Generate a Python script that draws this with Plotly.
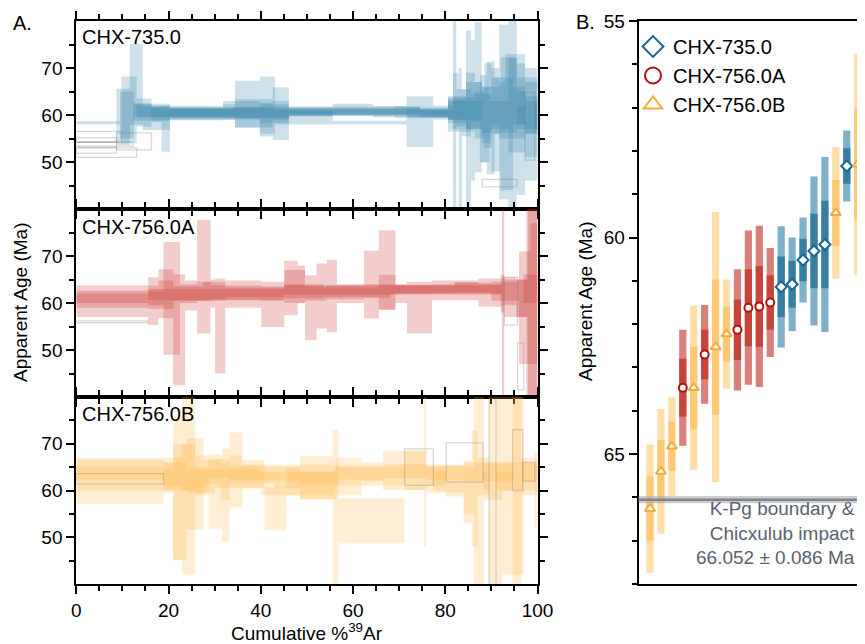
import plotly.graph_objects as go

# ---------------- DATA ----------------
# Left panel: step-heating age spectra (cumulative %39Ar edges, apparent age, 2-sigma error, excluded step indices)
# CHX-735.0
b_a_edges = [0, 9.8, 13.1, 16.3, 31.8, 39.8, 46.1, 55.6, 64.3, 71.6, 80.6, 86.4, 87.9, 90.0, 92.0, 95.5, 97.3, 100]
b_a_age = [55.4, 61.1, 60.5, 60.4, 61.0, 60.3, 60.7, 61.2, 60.7, 60.6, 60.1, 63.8, 60.3, 61.0, 64.3, 60.0, 58.0]
b_a_err = [1.1, 7.1, 3.0, 1.5, 2.0, 2.0, 1.0, 1.2, 1.2, 1.0, 3.6, 16.0, 4.2, 5.0, 8.0, 8.0, 12.0]
b_a_excl = [0]

b_b_edges = [0, 8.7, 11.6, 14.4, 20.3, 34.4, 42.6, 46.1, 69.0, 74.5, 81.7, 82.4, 84.5, 85.6, 87.5, 89.0, 90.7, 91.7, 93.7, 95.5, 97.3, 100]
b_b_age = [52.5, 59.6, 66.5, 59.3, 60.6, 60.4, 60.3, 60.6, 60.6, 60.3, 60.0, 61.5, 58.0, 61.5, 59.2, 59.4, 62.0, 60.6, 62.0, 58.0, 62.0]
b_b_err = [0.6, 6.0, 8.6, 2.5, 0.8, 3.0, 5.6, 0.8, 1.2, 0.8, 25.0, 4.0, 20.0, 3.0, 9.3, 12.0, 6.0, 18.6, 10.0, 15.0, 6.0]
b_b_excl = [0]

b_c_edges = [0, 9.5, 12.5, 16.3, 18.5, 20.3, 34.4, 39.8, 43.1, 55.6, 71.6, 77.4, 81.7, 82.9, 83.6, 85.6, 86.4, 88.5, 90.0, 92.0, 93.7, 95.5, 97.3, 100]
b_c_age = [58.4, 60.0, 61.0, 60.0, 56.6, 60.2, 62.3, 62.1, 59.5, 58.4, 58.6, 60.5, 63.0, 55.0, 60.5, 61.0, 60.0, 62.0, 58.0, 60.0, 60.0, 64.0, 60.0]
b_c_err = [0.35, 5.0, 1.5, 1.5, 4.4, 1.2, 5.0, 6.1, 1.5, 0.4, 5.4, 1.5, 6.0, 15.0, 5.0, 15.0, 5.0, 9.0, 10.0, 3.0, 20.0, 7.0, 4.0]
b_c_excl = []

b_d_edges = [0, 8.7, 16.3, 31.8, 34.4, 39.8, 42.6, 46.1, 64.3, 74.5, 80.6, 84.5, 87.9, 89.6, 92.0, 94.7, 97.3, 100]
b_d_age = [54.7, 54.4, 60.5, 60.8, 60.5, 59.0, 61.0, 61.0, 61.0, 60.2, 60.8, 62.0, 58.0, 60.0, 56.0, 62.0, 60.0]
b_d_err = [0.5, 1.8, 1.0, 1.5, 1.2, 3.6, 2.0, 0.8, 0.8, 0.8, 2.5, 5.0, 8.0, 3.0, 12.0, 4.0, 3.0]
b_d_excl = [0, 1]

b_e_edges = [0, 13.1, 20.3, 46.1, 80.6, 88.0, 95.5, 97.3, 99.4, 100]
b_e_age = [52.0, 60.8, 60.4, 60.6, 61.0, 45.5, 60.0, 57.6, 60.0]
b_e_err = [1.0, 1.2, 1.0, 0.6, 2.0, 0.8, 2.0, 7.2, 3.0]
b_e_excl = [0, 5, 7]

b_f_edges = [0, 12.3, 20.3, 46.1, 72.0, 80.6, 84.5, 86.4, 88.0, 90.0, 91.7, 93.0, 95.5, 97.3, 100]
b_f_age = [53.8, 60.6, 60.5, 60.7, 60.4, 61.5, 63.0, 62.0, 60.0, 64.0, 61.0, 64.0, 60.0, 59.0]
b_f_err = [0.4, 1.8, 1.2, 0.8, 1.0, 2.5, 6.0, 5.0, 6.0, 6.0, 6.0, 9.0, 5.0, 8.0]
b_f_excl = [0]

# CHX-756.0A
r_a_edges = [0, 15.6, 17.8, 21.0, 27.5, 32.3, 40.1, 45.1, 49.6, 54.3, 62.4, 68.0, 77.1, 82.0, 87.2, 92.3, 95.4, 97.9, 100]
r_a_age = [60.8, 61.2, 61.8, 62.0, 62.5, 62.2, 62.0, 63.5, 62.0, 62.3, 62.5, 62.9, 63.0, 63.2, 63.0, 62.5, 61.0, 58.0]
r_a_err = [1.8, 2.5, 3.0, 1.5, 2.0, 1.5, 1.5, 3.5, 1.5, 1.5, 1.5, 1.0, 1.0, 1.2, 1.0, 3.0, 4.0, 25.0]
r_a_excl = []

r_b_edges = [0, 15.6, 17.8, 21.0, 23.6, 26.2, 29.1, 30.1, 32.3, 40.1, 45.1, 48.0, 49.6, 52.1, 54.3, 56.5, 62.4, 65.6, 69.2, 71.7, 77.1, 87.2, 92.3, 92.8, 97.6, 99.7, 100]
r_b_age = [60.4, 60.4, 62.0, 54.3, 61.6, 65.6, 62.0, 55.1, 61.9, 59.7, 63.2, 64.0, 59.0, 61.5, 61.5, 62.0, 63.9, 67.0, 62.0, 59.0, 62.7, 62.2, 60.0, 61.0, 60.0, 60.0]
r_b_err = [3.4, 5.1, 5.2, 11.8, 3.2, 12.1, 3.0, 10.1, 2.9, 4.8, 5.8, 4.0, 6.9, 6.9, 7.7, 2.0, 7.2, 8.5, 2.0, 5.5, 2.1, 3.0, 40.0, 4.0, 30.0, 20.0]
r_b_excl = []

r_c_edges = [0, 15.6, 18.9, 22.5, 26.2, 29.1, 32.3, 45.1, 53.6, 65.6, 69.2, 82.0, 90.0, 96.0, 98.5, 100]
r_c_age = [61.0, 61.0, 61.0, 62.0, 62.5, 62.3, 62.3, 62.5, 62.3, 62.3, 62.9, 63.3, 62.5, 59.0, 62.0]
r_c_err = [1.0, 1.5, 12.0, 2.0, 2.0, 1.5, 1.0, 1.5, 1.0, 3.7, 0.8, 1.0, 2.0, 12.0, 15.0]
r_c_excl = []

r_d_edges = [0, 15.6, 45.0, 92.0, 92.8, 95.7, 97.0, 100]
r_d_age = [56.0, 61.8, 62.8, 62.0, 60.4, 46.5, 63.0]
r_d_err = [0.2, 1.2, 1.0, 4.0, 5.1, 5.0, 3.0]
r_d_excl = [0, 4, 5]

# CHX-756.0B
o_a_edges = [0, 18.9, 21.0, 22.9, 25.8, 28.7, 31.6, 33.2, 36.1, 40.8, 45.5, 48.5, 55.6, 56.8, 71.2, 75.4, 75.9, 80.2, 84.0, 85.8, 87.0, 89.5, 92.4, 94.6, 96.5, 100]
o_a_age = [62.0, 62.0, 60.4, 62.0, 63.5, 59.8, 59.0, 64.4, 63.5, 56.1, 62.0, 62.8, 56.6, 53.5, 64.3, 64.0, 62.5, 62.5, 59.7, 60.4, 63.0, 60.0, 63.0, 60.0, 63.0]
o_a_err = [4.9, 2.5, 15.2, 20.0, 4.0, 8.0, 10.0, 8.0, 3.0, 4.6, 3.0, 4.6, 16.5, 4.8, 4.2, 16.0, 3.0, 3.0, 6.7, 12.4, 4.0, 22.0, 3.0, 20.0, 4.0]
o_a_excl = []

o_b_edges = [0, 18.9, 21.0, 23.9, 27.6, 31.3, 33.2, 35.8, 43.0, 48.5, 56.4, 61.8, 66.5, 75.9, 80.2, 84.0, 86.2, 88.4, 92.4, 97.0, 100]
o_b_age = [62.5, 63.0, 57.5, 61.4, 64.0, 62.0, 64.5, 63.5, 63.0, 61.0, 63.0, 64.0, 64.3, 63.0, 62.0, 60.0, 60.0, 62.0, 62.0, 64.0]
o_b_err = [2.5, 3.0, 12.4, 9.8, 2.5, 4.0, 3.0, 2.0, 2.5, 3.0, 4.0, 2.0, 4.2, 2.0, 3.3, 5.0, 20.0, 4.0, 20.0, 2.0]
o_b_excl = []

o_c_edges = [0, 18.9, 22.9, 25.8, 28.7, 33.2, 40.8, 48.5, 56.8, 66.5, 75.9, 84.0, 90.0, 95.0, 100]
o_c_age = [64.5, 64.0, 65.0, 62.0, 64.8, 63.8, 63.6, 63.5, 63.8, 64.2, 63.8, 64.0, 64.0, 63.0]
o_c_err = [2.2, 3.0, 5.0, 3.0, 2.0, 1.5, 1.5, 2.0, 1.5, 1.5, 1.5, 2.0, 2.0, 3.0]
o_c_excl = []

o_d_edges = [0, 18.9, 24.0, 30.0, 40.0, 56.0, 71.2, 77.4, 80.2, 88.2, 89.5, 91.0, 94.6, 96.8, 99.4, 100]
o_d_age = [62.5, 63.0, 62.0, 62.5, 61.5, 63.0, 65.0, 62.0, 66.0, 62.0, 60.0, 62.0, 66.5, 64.0, 60.0]
o_d_err = [1.1, 3.0, 2.5, 2.0, 2.5, 2.0, 3.9, 2.0, 4.2, 2.0, 30.0, 2.0, 6.5, 2.0, 8.0]
o_d_excl = [0, 6, 8, 10, 12, 13]

# Right panel: plateau / weighted-mean ages with 1-sigma (2-sigma = 2x)
samples = ["CHX-735.0", "CHX-756.0A", "CHX-756.0B"]
c735_pos = [13, 14, 15, 16, 17, 19]
c735_age = [61.14, 61.08, 60.52, 60.31, 60.16, 58.35]
c735_sig = [0.70, 0.54, 0.49, 0.86, 1.01, 0.41]
c756a_pos = [4, 6, 9, 10, 11, 12]
c756a_age = [63.47, 62.70, 62.13, 61.62, 61.59, 61.50]
c756a_sig = [0.67, 0.57, 0.70, 0.89, 0.93, 0.63]
c756b_pos = [1, 2, 3, 5, 7, 8, 18, 20]
c756b_age = [66.26, 65.40, 64.82, 63.47, 62.53, 62.23, 59.43, 58.31]
c756b_sig = [0.74, 0.72, 0.57, 0.95, 1.56, 0.63, 0.76, 1.28]

kpg_age = 66.052
kpg_err = 0.086

# ---------------- STYLE / LAYOUT ----------------
W, H = 865, 644
OFF = 8  # page body margin offset in the screenshot
FONT = "Liberation Sans, Arial, sans-serif"

def fx(p):
    return (p - OFF) / W

def fy(p):
    return 1 - (p - OFF) / H

fig = go.Figure()

def add_spectrum(edges, ages, errs, excl, xa, ya, fill):
    fxs, fys, gxs, gys = [], [], [], []
    for i in range(len(ages)):
        x0, x1 = edges[i], edges[i + 1]
        lo, hi = ages[i] - errs[i], ages[i] + errs[i]
        xs = [x0, x1, x1, x0, x0, None]
        ys = [lo, lo, hi, hi, lo, None]
        if i in excl:
            gxs += xs
            gys += ys
        else:
            fxs += xs
            fys += ys
    if fxs:
        fig.add_trace(go.Scatter(x=fxs, y=fys, mode="lines", fill="toself", fillcolor=fill,
                                 line=dict(width=0, color=fill), xaxis=xa, yaxis=ya,
                                 showlegend=False, hoverinfo="skip"))
    if gxs:
        fig.add_trace(go.Scatter(x=gxs, y=gys, mode="lines",
                                 line=dict(color="rgba(120,120,120,0.28)", width=1.3),
                                 xaxis=xa, yaxis=ya, showlegend=False, hoverinfo="skip"))

BLUE_F = "rgba(50,128,166,0.24)"
RED_F = "rgba(200,45,40,0.24)"
ORA_F = "rgba(255,178,55,0.22)"

for e, a, s, x in [(b_a_edges, b_a_age, b_a_err, b_a_excl), (b_b_edges, b_b_age, b_b_err, b_b_excl),
                   (b_c_edges, b_c_age, b_c_err, b_c_excl), (b_d_edges, b_d_age, b_d_err, b_d_excl),
                   (b_e_edges, b_e_age, b_e_err, b_e_excl), (b_f_edges, b_f_age, b_f_err, b_f_excl)]:
    add_spectrum(e, a, s, x, "x", "y", BLUE_F)
for e, a, s, x in [(r_a_edges, r_a_age, r_a_err, r_a_excl), (r_b_edges, r_b_age, r_b_err, r_b_excl),
                   (r_c_edges, r_c_age, r_c_err, r_c_excl), (r_d_edges, r_d_age, r_d_err, r_d_excl)]:
    add_spectrum(e, a, s, x, "x2", "y2", RED_F)
for e, a, s, x in [(o_a_edges, o_a_age, o_a_err, o_a_excl), (o_b_edges, o_b_age, o_b_err, o_b_excl),
                   (o_c_edges, o_c_age, o_c_err, o_c_excl), (o_d_edges, o_d_age, o_d_err, o_d_excl)]:
    add_spectrum(e, a, s, x, "x3", "y3", ORA_F)

# Right panel bars and markers
groups = [
    (samples[0], c735_pos, c735_age, c735_sig, "rgb(128,176,201)", "rgb(56,126,163)", "diamond", "rgb(22,104,145)", 8.5),
    (samples[1], c756a_pos, c756a_age, c756a_sig, "rgb(218,128,122)", "rgb(199,68,58)", "circle", "rgb(180,16,16)", 8),
    (samples[2], c756b_pos, c756b_age, c756b_sig, "rgb(255,222,168)", "rgb(253,201,117)", "triangle-up", "rgb(248,170,60)", 9),
]
BW = 0.66
for name, pos, age, sig, c_out, c_in, sym, c_mk, msz in groups:
    fig.add_trace(go.Bar(x=pos, y=[4 * s for s in sig], base=[a - 2 * s for a, s in zip(age, sig)],
                         width=BW, marker=dict(color=c_out, line=dict(width=0)),
                         xaxis="x4", yaxis="y4", showlegend=False, hoverinfo="skip"))
for name, pos, age, sig, c_out, c_in, sym, c_mk, msz in groups:
    fig.add_trace(go.Bar(x=pos, y=[2 * s for s in sig], base=[a - s for a, s in zip(age, sig)],
                         width=BW, marker=dict(color=c_in, line=dict(width=0)),
                         xaxis="x4", yaxis="y4", showlegend=False, hoverinfo="skip"))
for name, pos, age, sig, c_out, c_in, sym, c_mk, msz in groups:
    fig.add_trace(go.Scatter(x=pos, y=age, mode="markers",
                             marker=dict(symbol=sym, size=msz, color="white", line=dict(color=c_mk, width=2)),
                             xaxis="x4", yaxis="y4", showlegend=False, hoverinfo="skip"))
for name, pos, age, sig, c_out, c_in, sym, c_mk, msz in groups:
    fig.add_trace(go.Scatter(x=[None], y=[None], mode="markers", name=name,
                             marker=dict(symbol=sym, size=16, color="white", line=dict(color=c_mk, width=2)),
                             xaxis="x4", yaxis="y4", showlegend=True))

# axes
XL = [fx(76.3), fx(537.5)]
doms = [[fy(209), fy(21)], [fy(397), fy(209)], [fy(584), fy(397)]]
minor_x = [v for v in range(5, 100, 5) if v % 20 != 0]

def xax(anchor, labels):
    return dict(domain=XL, anchor=anchor, range=[0, 100], showline=True, linewidth=2, linecolor="black",
                mirror="allticks", ticks="outside", ticklen=8, tickwidth=2, tickcolor="black",
                tickvals=[0, 20, 40, 60, 80, 100], showticklabels=labels,
                tickfont=dict(size=19, color="black", family=FONT),
                minor=dict(tickvals=minor_x, ticks="outside", ticklen=5, tickwidth=1.5, tickcolor="black"),
                showgrid=False, zeroline=False, automargin=False)

def yax(anchor, dom):
    return dict(domain=dom, anchor=anchor, range=[40, 80], showline=True, linewidth=2, linecolor="black",
                mirror="allticks", ticks="outside", ticklen=8, tickwidth=2, tickcolor="black",
                tickvals=[50, 60, 70], tickfont=dict(size=19, color="black", family=FONT),
                minor=dict(tickvals=[45, 55, 65, 75], ticks="outside", ticklen=5, tickwidth=1.5, tickcolor="black"),
                showgrid=False, zeroline=False, automargin=False)

# right panel x range so that position 1 sits at px 650 and 20 at px 857.7
R_LEFT, R_RIGHT = 638.7, OFF + W
PPU = (857.7 - 650.0) / 19.0
xr = [1 - (650.0 - R_LEFT) / PPU, 20 + (R_RIGHT - 857.7) / PPU]

fig.update_layout(
    width=W, height=H, margin=dict(l=0, r=0, t=0, b=0),
    paper_bgcolor="white", plot_bgcolor="white",
    font=dict(family=FONT, size=19, color="black"),
    barmode="overlay",
    xaxis=xax("y", False), yaxis=yax("x", doms[0]),
    xaxis2=xax("y2", False), yaxis2=yax("x2", doms[1]),
    xaxis3=xax("y3", True), yaxis3=yax("x3", doms[2]),
    xaxis4=dict(domain=[fx(R_LEFT), 1.0], anchor="y4", range=xr, showline=True, linewidth=2,
                linecolor="black", mirror=True, ticks="", showticklabels=False, showgrid=False,
                zeroline=False, automargin=False),
    yaxis4=dict(domain=[fy(584), fy(21)], anchor="x4", range=[68, 55], showline=True, linewidth=2,
                linecolor="black", mirror=False, ticks="outside", ticklen=8, tickwidth=2, tickcolor="black",
                tickvals=[55, 60, 65], tickfont=dict(size=19, color="black", family=FONT),
                minor=dict(dtick=1, ticks="outside", ticklen=5, tickwidth=1.5, tickcolor="black"),
                showgrid=False, zeroline=False, automargin=False),
    legend=dict(x=fx(633), y=fy(27), xanchor="left", yanchor="top", bgcolor="rgba(0,0,0,0)",
                font=dict(size=20, family=FONT, color="black"), itemsizing="trace", tracegroupgap=0),
    showlegend=True,
)

fig.add_shape(type="rect", xref="x4 domain", yref="y4", x0=0, x1=1, y0=kpg_age - kpg_err, y1=kpg_age + kpg_err,
              fillcolor="rgba(170,172,176,0.6)", line=dict(width=0), layer="above")
fig.add_shape(type="line", xref="x4 domain", yref="y4", x0=0, x1=1, y0=kpg_age, y1=kpg_age,
              line=dict(color="rgb(128,132,138)", width=2.5), layer="above")

ann = [
    dict(text="A.", x=fx(11), y=fy(23), xanchor="left", yanchor="middle", font=dict(size=20)),
    dict(text="B.", x=fx(574), y=fy(22), xanchor="left", yanchor="middle", font=dict(size=20)),
    dict(text=samples[0], x=fx(80), y=fy(37), xanchor="left", yanchor="middle", font=dict(size=20)),
    dict(text=samples[1], x=fx(80), y=fy(227), xanchor="left", yanchor="middle", font=dict(size=20)),
    dict(text=samples[2], x=fx(80), y=fy(414), xanchor="left", yanchor="middle", font=dict(size=20)),
    dict(text="Apparent Age (Ma)", x=fx(20), y=fy(303), textangle=-90, xanchor="center", yanchor="middle",
         font=dict(size=19)),
    dict(text="Apparent Age (Ma)", x=fx(585), y=fy(302), textangle=-90, xanchor="center", yanchor="middle",
         font=dict(size=19)),
    dict(text="Cumulative %<sup>39</sup>Ar", x=fx(307), y=fy(632), xanchor="center", yanchor="middle",
         font=dict(size=19)),
    dict(text="K-Pg boundary &<br>Chicxulub impact<br>66.052 ± 0.086 Ma", x=fx(857), y=fy(533),
         xanchor="right", yanchor="middle", align="right", font=dict(size=19, color="rgb(88,98,110)")),
]
for a in ann:
    a.update(xref="paper", yref="paper", showarrow=False)
    a["font"] = dict(family=FONT, color=a["font"].get("color", "black"), size=a["font"]["size"])
    fig.add_annotation(**a)

fig.write_html("out.html")
